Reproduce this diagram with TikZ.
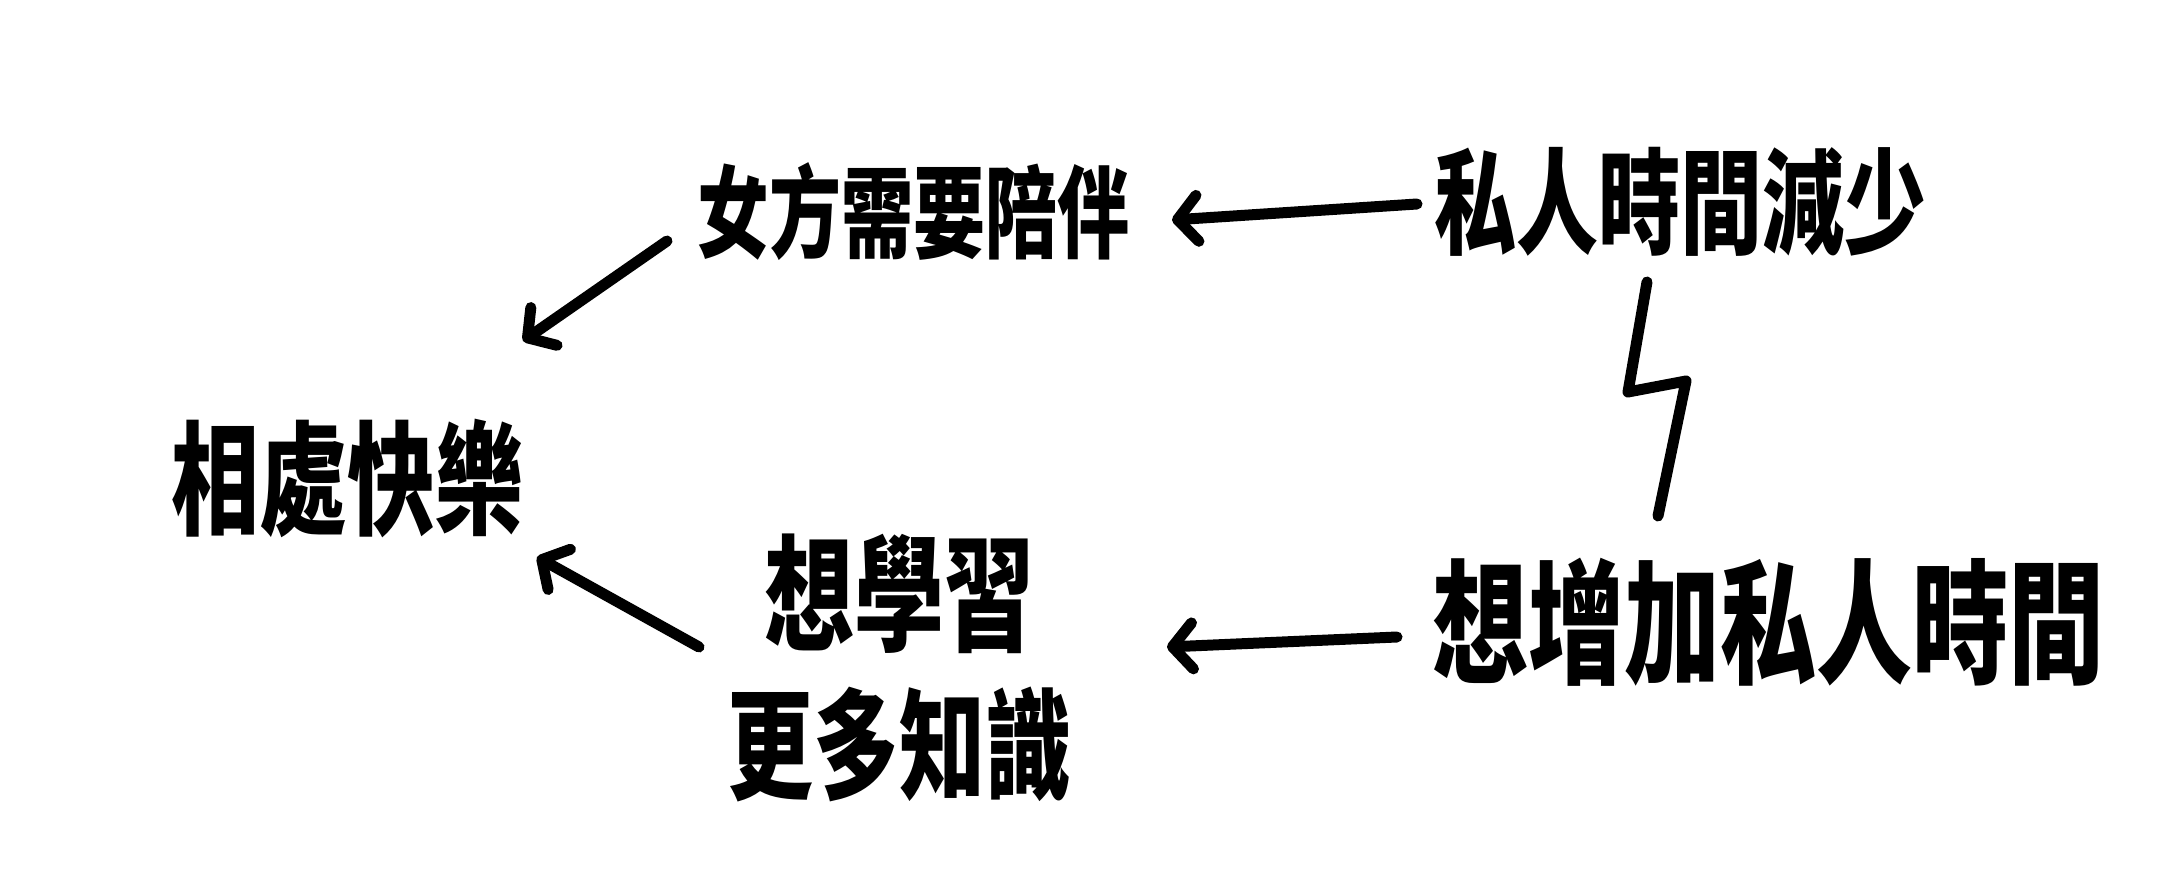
\documentclass[tikz,border=0pt]{standalone}
\usepackage{fontspec}
\usepackage{graphicx}
\newfontfamily\cjk{Noto Sans CJK TC}
\usetikzlibrary{arrows.meta}
% tall handwritten-looking text: size, then text
\newcommand\tallbox[2]{\scalebox{1}[1.4]{\fontsize{#1}{#1}\selectfont #2}}
\begin{document}
\begin{tikzpicture}[x=1pt,y=-1pt,
  label/.style={inner sep=0pt, align=center, font=\cjk\bfseries},
  pen/.style={line width=11pt, line cap=round, line join=round},
  arr/.style={pen, -{Straight Barb[length=20pt,width=46pt,round]}},
]
\useasboundingbox (0,0) rectangle (2158,869);

% statements
\node[label] (xc) at (347,478) {\tallbox{88}{相處快樂}};
\node[label] (nv) at (913,212) {\tallbox{72}{女方需要陪伴}};
\node[label] (sr) at (1680,202) {\tallbox{82}{私人時間減少}};
\node[label] (xl) at (899,668) {\tallbox{90}{想學習}\\[32pt]\tallbox{86}{更多知識}};
\node[label] (zj) at (1768,622) {\tallbox{96}{想增加私人時間}};

% causal links
\draw[arr] ([shift={(-263,2)}]sr.center) -- ([shift={(259,8)}]nv.center);
\draw[arr] ([shift={(-246,29)}]nv.center) -- ([shift={(176,-137)}]xc.center);
\draw[arr] ([shift={(-371,15)}]zj.center) -- ([shift={(268,-21)}]xl.center);
\draw[arr] ([shift={(-200,-21)}]xl.center) -- ([shift={(190,79)}]xc.center);

% conflict bolt
\draw[pen] ([shift={(-33,80)}]sr.center) -- (1628,392) -- (1686,381)
  -- ([shift={(-110,-106)}]zj.center);
\end{tikzpicture}
\end{document}
